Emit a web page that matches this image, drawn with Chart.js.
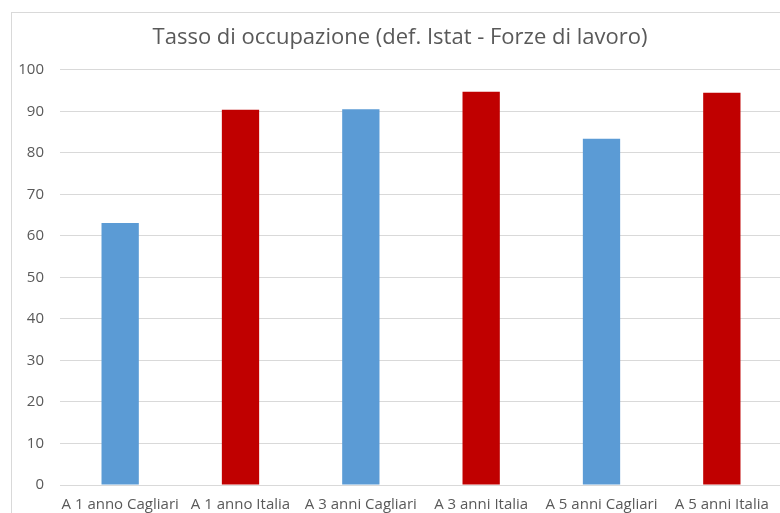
<!DOCTYPE html>
<html>
<head>
<meta charset="utf-8">
<script src="https://cdn.jsdelivr.net/npm/chart.js@4/dist/chart.umd.min.js"></script>
<style>
html,body{margin:0;padding:0;background:#fff;}
#wrap{position:relative;width:780px;height:513px;overflow:hidden;}
#frame{position:absolute;left:11px;top:12px;width:820px;height:600px;border:1px solid #d9d9d9;box-sizing:border-box;}
#box{position:absolute;left:0;top:0;width:800px;height:530px;}
</style>
</head>
<body>
<div id="wrap">
<div id="frame"></div>
<div id="box"><canvas id="grafico"></canvas></div>
</div>
<script>
const categorie = ['A 1 anno Cagliari', 'A 1 anno Italia', 'A 3 anni Cagliari', 'A 3 anni Italia', 'A 5 anni Cagliari', 'A 5 anni Italia'];
const valori = [63.1, 90.4, 90.5, 94.7, 83.4, 94.5];
const colori = ['#5B9BD5', '#C00000', '#5B9BD5', '#C00000', '#5B9BD5', '#C00000'];
const titolo = 'Tasso di occupazione (def. Istat - Forze di lavoro)';

const FONT = '"Open Sans", sans-serif';

const ctx = document.getElementById('grafico').getContext('2d');
new Chart(ctx, {
  type: 'bar',
  data: {
    labels: categorie,
    datasets: [{
      data: valori,
      backgroundColor: colori,
      borderWidth: 0,
      categoryPercentage: 1,
      barPercentage: 0.31
    }]
  },
  options: {
    responsive: true,
    maintainAspectRatio: false,
    animation: false,
    layout: { padding: { top: 12, right: 18, left: 18, bottom: 0 } },
    plugins: {
      legend: { display: false },
      tooltip: { enabled: false },
      title: {
        display: true,
        text: titolo,
        color: '#595959',
        font: { family: FONT, size: 22, weight: 'normal', lineHeight: 1.2 },
        padding: { top: 13, bottom: 18.4 }
      }
    },
    scales: {
      x: {
        grid: { display: false, drawTicks: false },
        border: { display: false },
        ticks: { color: '#595959', font: { family: FONT, size: 15 }, padding: 11, maxRotation: 0, autoSkip: false },
        afterFit: s => { s.height = 45; }
      },
      y: {
        min: 0,
        max: 100,
        ticks: { stepSize: 10, color: '#595959', font: { family: FONT, size: 15 }, padding: 16 },
        grid: { color: '#d9d9d9', lineWidth: 1, drawTicks: false },
        border: { display: false },
        afterFit: s => { s.width = 42; }
      }
    }
  }
});
</script>
</body>
</html>
